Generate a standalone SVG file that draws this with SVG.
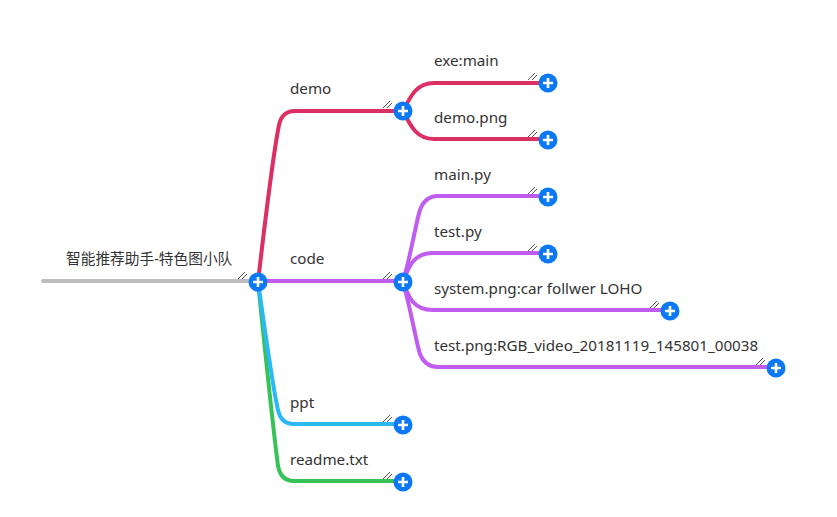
<svg xmlns="http://www.w3.org/2000/svg" width="837" height="517" viewBox="0 0 837 517">
<style>
.t{font-family:"Noto Sans","Noto Sans CJK SC",sans-serif;font-size:15.2px;fill:#333}
.c{font-size:14.7px}
.l{fill:none;stroke-width:4;stroke-linecap:round;stroke-linejoin:round}
.red{stroke:#dc2f64}
.pur{stroke:#c15cf0}
.cy{stroke:#2ab8f7}
.gr{stroke:#37c257}
.h{stroke:#555;stroke-width:1}
</style>
<defs>
<g id="plus">
<circle r="9.5" fill="#0b79f5"/>
<path d="M-5,0H5M0,-5V5" stroke="#fff" stroke-width="2.6"/>
</g>
<g id="hatch">
<path class="h" d="M-20,-3L-13,-10M-16,-3L-11,-8"/>
</g>
</defs>
<rect width="837" height="517" fill="#fff"/>
<g id="connectors">
<path class="l" stroke="#bdbdbd" d="M43,281H258"/>
<path class="l gr" d="M258,282C264,340 272,420 278,466Q281,481 294,481H403"/>
<path class="l cy" d="M258,282C265,330 273,390 278,410Q281,424 294,424H403"/>
<path class="l red" d="M258,282C264,230 274,150 279,125Q282,111 295,111H403"/>
<path class="l pur" d="M258,281H403"/>
<path class="l red" d="M403,111C411,95 417,83 434,83H548"/>
<path class="l red" d="M403,111C411,127 417,139 434,139H548"/>
<path class="l pur" d="M403,282C412,250 416,222 420,210Q425,196 438,196H548"/>
<path class="l pur" d="M403,282C408,268 413,253 433,253H548"/>
<path class="l pur" d="M403,282C408,296 413,310 433,310H670"/>
<path class="l pur" d="M403,282C412,314 416,342 420,354Q425,367 438,367H776"/>
</g>
<g id="root">
<text class="t c" x="66" y="264">智能推荐助手-特色图小队</text>
<use href="#hatch" x="258" y="282"/>
<use href="#plus" x="258" y="282"/>
</g>
<g id="demo">
<text class="t" x="290" y="94">demo</text>
<use href="#hatch" x="403" y="111"/>
<use href="#plus" x="403" y="111"/>
</g>
<g id="code">
<text class="t" x="290" y="264">code</text>
<use href="#hatch" x="403" y="282"/>
<use href="#plus" x="403" y="282"/>
</g>
<g id="ppt">
<text class="t" x="290" y="408">ppt</text>
<use href="#hatch" x="403" y="425"/>
<use href="#plus" x="403" y="425"/>
</g>
<g id="readme">
<text class="t" x="290" y="465">readme.txt</text>
<use href="#hatch" x="403" y="482"/>
<use href="#plus" x="403" y="482"/>
</g>
<g id="exe-main">
<text class="t" x="434" y="66">exe:main</text>
<use href="#hatch" x="548" y="83"/>
<use href="#plus" x="548" y="83"/>
</g>
<g id="demo-png">
<text class="t" x="434" y="123">demo.png</text>
<use href="#hatch" x="548" y="140"/>
<use href="#plus" x="548" y="140"/>
</g>
<g id="main-py">
<text class="t" x="434" y="180">main.py</text>
<use href="#hatch" x="548" y="197"/>
<use href="#plus" x="548" y="197"/>
</g>
<g id="test-py">
<text class="t" x="434" y="237">test.py</text>
<use href="#hatch" x="548" y="254"/>
<use href="#plus" x="548" y="254"/>
</g>
<g id="system-png">
<text class="t" x="434" y="294">system.png:car follwer LOHO</text>
<use href="#hatch" x="670" y="311"/>
<use href="#plus" x="670" y="311"/>
</g>
<g id="test-png">
<text class="t" x="434" y="351">test.png:RGB_video_20181119_145801_00038</text>
<use href="#hatch" x="776" y="368"/>
<use href="#plus" x="776" y="368"/>
</g>
</svg>
